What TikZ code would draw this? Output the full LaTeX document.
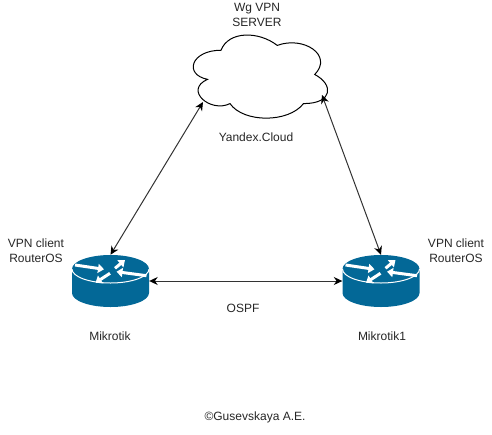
\documentclass[tikz,border=0pt]{standalone}
\usepackage{fontspec}
\setmainfont{Liberation Sans}
\usetikzlibrary{arrows.meta}
\definecolor{routerblue}{HTML}{036897}
\definecolor{linkgray}{HTML}{333333}
\begin{document}
\begin{tikzpicture}[x=1pt,y=-1pt,
  label/.style={align=center,font=\fontsize{12}{15}\selectfont,text=black!85,inner sep=0pt},
  routerbox/.style={minimum width=77pt,minimum height=52pt,inner sep=0pt},
  link/.style={linkgray,line width=1pt,{Stealth[length=8.5pt,width=8pt,black]}-{Stealth[length=8.5pt,width=8pt,black]}},
  router arrow/.style={white,line width=3pt,-{Triangle[length=6pt,width=9pt]}},
  router/.pic={
    \fill[routerblue] (-38.5,-3) -- (-38.5,21) arc[start angle=180,end angle=360,x radius=38.5pt,y radius=14pt]
      -- (38.5,-3) arc[start angle=0,end angle=180,x radius=38.5pt,y radius=14pt] -- cycle;
    \draw[white,line width=1pt] (-38.5,-3) arc[start angle=180,end angle=360,x radius=38.5pt,y radius=14pt];
    \draw[router arrow] (-35.5,-7) -- (-6.5,-2.7);
    \draw[router arrow] (4.5,-3.7) -- (14.5,-12);
    \draw[router arrow] (36,3.7) -- (6,-0.3);
    \draw[router arrow] (-0.5,1.3) -- (-15,10.7);
  }]
\useasboundingbox (0,0) rectangle (492,434);

%draw cloud
  \begin{scope}[shift={(183.5,26)},x=150pt,y=-97pt]
    \draw[black,line width=1pt,fill=white] (0.25,0.25)
      .. controls (0.05,0.25) and (0,0.5) .. (0.16,0.55)
      .. controls (0,0.66) and (0.18,0.9) .. (0.31,0.8)
      .. controls (0.4,1) and (0.7,1) .. (0.8,0.8)
      .. controls (1,0.8) and (1,0.6) .. (0.875,0.5)
      .. controls (1,0.3) and (0.8,0.1) .. (0.625,0.2)
      .. controls (0.5,0.05) and (0.3,0.05) .. (0.25,0.25) -- cycle;
  \end{scope}
  \coordinate (cloudleft) at (203,102);
  \coordinate (cloudright) at (322,95);

%draw routers
  \foreach \x in {110.5,381} \pic at (\x,272) {router};
  \node[routerbox] (mikrotik) at (110.5,281) {};
  \node[routerbox] (mikrotikone) at (381,281) {};

%draw links
  \draw[link] (mikrotik.north) -- (cloudleft);
  \draw[link] (mikrotikone.north) -- (cloudright);
  \draw[link] (mikrotik.east) -- (mikrotikone.west);

%labels
  \node[label] (server) at (257,14.5) {Wg VPN\\SERVER};
  \node[label] (yandex) at (256,137) {Yandex.Cloud};
  \node[label] (clientleft) at (36,250.5) {VPN client\\RouterOS};
  \node[label] (clientright) at (456,250.5) {VPN client\\RouterOS};
  \node[label] (ospf) at (243,308) {OSPF};
  \node[label] (namemikrotik) at (110,336) {Mikrotik};
  \node[label] (namemikrotikone) at (382,336) {Mikrotik1};
  \node[label] (copyright) at (255,417) {©Gusevskaya A.E.};

\end{tikzpicture}
\end{document}
